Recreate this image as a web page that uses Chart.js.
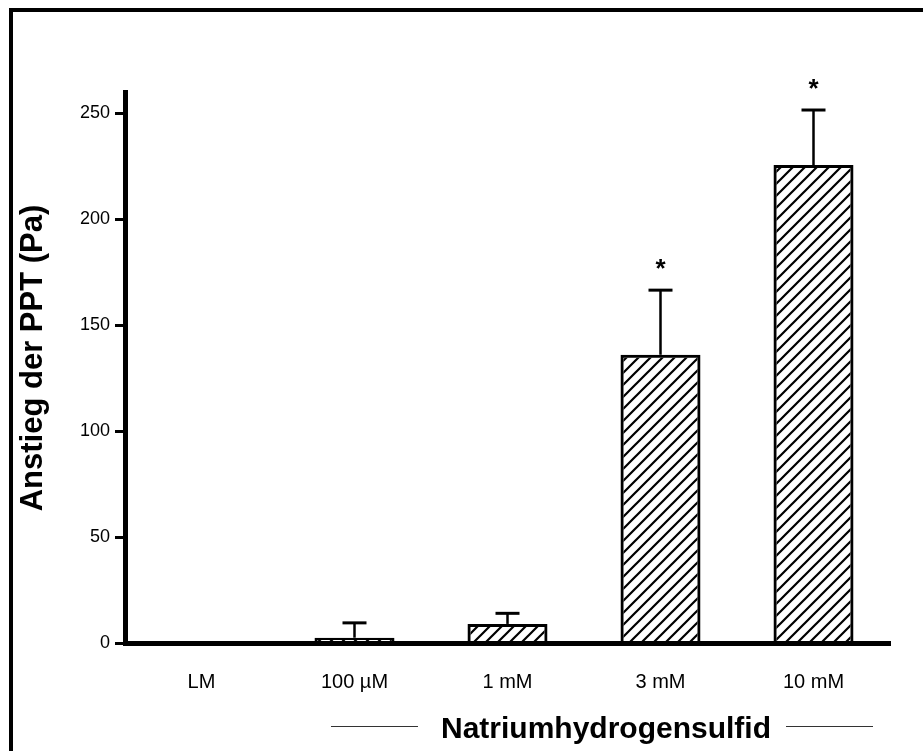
<!DOCTYPE html>
<html>
<head>
<meta charset="utf-8">
<script src="https://cdn.jsdelivr.net/npm/chart.js@4.4.1/dist/chart.umd.min.js"></script>
<style>
    body { margin: 0; background: #fff; }
    #wrap { position: relative; width: 923px; height: 751px; }
    #frame {
        position: absolute; left: 9px; top: 8px; right: 0; bottom: 0;
        border-left: 4px solid #000; border-top: 4px solid #000;
        pointer-events: none;
    }
</style>
</head>
<body>
<div id="wrap">
    <canvas id="myChart" width="923" height="751"></canvas>
    <div id="frame"></div>
</div>
<script>
var categories = ["LM", "100 µM", "1 mM", "3 mM", "10 mM"];
var means = [0, 2.5, 9, 136, 225.5];
var errors = [0, 7, 5, 30.5, 26];
var marks = ["", "", "", "*", "*"];
var yTicks = [0, 50, 100, 150, 200, 250];
var xTitle = "Natriumhydrogensulfid";
var yTitle = "Anstieg der PPT (Pa)";

var FONT = "'Liberation Sans', Arial, sans-serif";

// diagonal hatch fill for the bars
function makeHatch() {
    var c = document.createElement("canvas");
    c.width = 12;
    c.height = 12;
    var g = c.getContext("2d");
    g.strokeStyle = "#000";
    g.lineWidth = 2.2;
    g.beginPath();
    g.moveTo(-6, 6); g.lineTo(6, -6);
    g.moveTo(0, 12); g.lineTo(12, 0);
    g.moveTo(6, 18); g.lineTo(18, 6);
    g.stroke();
    return g.createPattern(c, "repeat");
}

// upward error bars with cap, plus significance stars
var errorBars = {
    id: "errorBars",
    afterDatasetsDraw: function (chart) {
        var ctx = chart.ctx;
        var y = chart.scales.y;
        var meta = chart.getDatasetMeta(0);
        ctx.save();
        ctx.strokeStyle = "#000";
        ctx.fillStyle = "#000";
        for (var i = 0; i < means.length; i++) {
            var x = meta.data[i].x;
            var yTop = y.getPixelForValue(means[i] + errors[i]);
            if (errors[i] > 0) {
                ctx.lineWidth = 2.5;
                ctx.beginPath();
                ctx.moveTo(x, y.getPixelForValue(means[i]));
                ctx.lineTo(x, yTop);
                ctx.stroke();
                ctx.lineWidth = 3;
                ctx.beginPath();
                ctx.moveTo(x - 12, yTop);
                ctx.lineTo(x + 12, yTop);
                ctx.stroke();
            }
            if (marks[i]) {
                ctx.font = "bold 26px " + FONT;
                ctx.textAlign = "center";
                ctx.textBaseline = "alphabetic";
                ctx.fillText(marks[i], x, yTop - 13);
            }
        }
        ctx.restore();
    }
};

// axis titles: rotated y title, x title with a rule on each side
var axisTitles = {
    id: "axisTitles",
    afterDraw: function (chart) {
        var ctx = chart.ctx;
        ctx.save();
        ctx.fillStyle = "#000";
        ctx.textAlign = "center";
        ctx.textBaseline = "alphabetic";

        ctx.save();
        ctx.translate(42, 358);
        ctx.rotate(-Math.PI / 2);
        ctx.font = "bold 31px " + FONT;
        ctx.fillText(yTitle, 0, 0);
        ctx.restore();

        ctx.font = "bold 30px " + FONT;
        var cx = 606;
        var w = ctx.measureText(xTitle).width;
        ctx.fillText(xTitle, cx, 738);
        ctx.strokeStyle = "#333";
        ctx.lineWidth = 1;
        ctx.beginPath();
        ctx.moveTo(cx - w / 2 - 110, 726.5);
        ctx.lineTo(cx - w / 2 - 23, 726.5);
        ctx.moveTo(cx + w / 2 + 15, 726.5);
        ctx.lineTo(cx + w / 2 + 102, 726.5);
        ctx.stroke();
        ctx.restore();
    }
};

new Chart("myChart", {
    type: "bar",
    data: {
        labels: categories,
        datasets: [{
            data: means,
            backgroundColor: makeHatch(),
            borderColor: "#000",
            borderWidth: 3,
            borderSkipped: "start",
            barPercentage: 0.523,
            categoryPercentage: 1
        }]
    },
    options: {
        responsive: false,
        animation: false,
        layout: {padding: {left: 0, right: 33, top: 92, bottom: 0}},
        plugins: {
            legend: {display: false},
            tooltip: {enabled: false}
        },
        scales: {
            x: {
                z: 1,
                grid: {display: false, drawTicks: false},
                border: {display: true, color: "#000", width: 5},
                ticks: {
                    color: "#000",
                    font: {family: FONT, size: 20},
                    padding: 27
                },
                afterFit: function (s) { s.height = 108; }
            },
            y: {
                z: 1,
                min: 0,
                max: 260,
                afterBuildTicks: function (s) {
                    s.ticks = yTicks.map(function (v) { return {value: v}; });
                },
                grid: {
                    drawOnChartArea: false,
                    drawTicks: true,
                    tickLength: 10,
                    tickWidth: 3,
                    tickColor: "#000"
                },
                border: {display: true, color: "#000", width: 5},
                ticks: {
                    color: "#000",
                    font: {family: FONT, size: 18},
                    padding: 5
                },
                afterFit: function (s) { s.width = 125; }
            }
        }
    },
    plugins: [errorBars, axisTitles]
});
</script>
</body>
</html>
